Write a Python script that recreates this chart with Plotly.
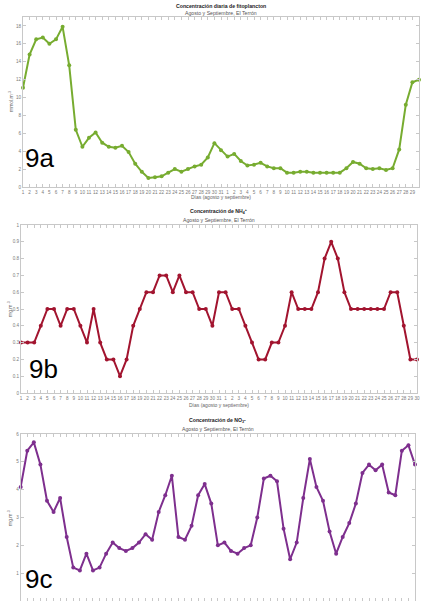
import plotly.graph_objects as go

W, H = 421, 601

day_labels = [str(d) for d in range(1, 32)] + [str(d) for d in range(1, 31)]
days = list(range(1, 62))

fito = [11.1, 14.8, 16.5, 16.7, 16.0, 16.5, 17.9, 13.6, 6.4, 4.5,
        5.5, 6.1, 4.95, 4.5, 4.4, 4.6, 3.9, 2.6, 1.7, 1.0,
        1.1, 1.2, 1.6, 2.0, 1.7, 2.0, 2.3, 2.5, 3.3, 4.9,
        4.1, 3.4, 3.7, 2.9, 2.4, 2.5, 2.7, 2.3, 2.1, 2.1,
        1.6, 1.6, 1.7, 1.7, 1.6, 1.6, 1.6, 1.6, 1.6, 2.1,
        2.8, 2.6, 2.1, 2.0, 2.1, 1.9, 2.1, 4.2, 9.2, 11.7, 12.0]

nh4 = [0.3, 0.3, 0.3, 0.4, 0.5, 0.5, 0.4, 0.5, 0.5, 0.4,
       0.3, 0.5, 0.3, 0.2, 0.2, 0.1, 0.2, 0.4, 0.5, 0.6,
       0.6, 0.7, 0.7, 0.6, 0.7, 0.6, 0.6, 0.5, 0.5, 0.4,
       0.6, 0.6, 0.5, 0.5, 0.4, 0.3, 0.2, 0.2, 0.3, 0.3,
       0.4, 0.6, 0.5, 0.5, 0.5, 0.6, 0.8, 0.9, 0.8, 0.6,
       0.5, 0.5, 0.5, 0.5, 0.5, 0.5, 0.6, 0.6, 0.4, 0.2, 0.2]

no3 = [4.1, 5.4, 5.7, 4.9, 3.6, 3.2, 3.7, 2.3, 1.2, 1.1,
       1.7, 1.1, 1.2, 1.7, 2.1, 1.9, 1.8, 1.9, 2.1, 2.4,
       2.2, 3.2, 3.8, 4.5, 2.3, 2.2, 2.7, 3.8, 4.2, 3.5,
       2.0, 2.1, 1.8, 1.7, 1.9, 2.0, 3.0, 4.4, 4.5, 4.3,
       2.6, 1.5, 2.1, 3.7, 5.1, 4.1, 3.6, 2.5, 1.7, 2.3,
       2.8, 3.5, 4.6, 4.9, 4.7, 4.9, 3.9, 3.8, 5.4, 5.6, 4.9]

colors = ["#77AC30", "#A2142F", "#7E2F8E"]
series = [fito, nh4, no3]

# pixel geometry of each panel: (left, right, top, bottom)
boxes = [(23, 419, 17, 187), (21, 417, 225, 393), (20.7, 415, 434, 601)]
yranges = [[0, 19], [0, 1], [0, 6]]
ytickvals = [list(range(0, 19, 2)), [i / 10 for i in range(0, 11)], list(range(0, 7))]
yticktext = [[str(v) for v in ytickvals[0]],
             ["0"] + ["0." + str(i) for i in range(1, 10)] + ["1"],
             [" "] + [str(v) for v in ytickvals[2][1:]]]
show_xlabels = [True, True, False]

FONT = "Liberation Sans"
GRID = "#c8c8c8"
TXT = "#7a7a7a"

fig = go.Figure()
layout = dict(width=W, height=H, margin=dict(l=0, r=0, t=0, b=0),
              paper_bgcolor="white", plot_bgcolor="white", showlegend=False,
              font=dict(family=FONT))

for k in range(3):
    l, r, t, b = boxes[k]
    xa = "xaxis" if k == 0 else f"xaxis{k+1}"
    ya = "yaxis" if k == 0 else f"yaxis{k+1}"
    fig.add_trace(go.Scatter(
        x=days, y=series[k], mode="lines+markers",
        line=dict(color=colors[k], width=2),
        marker=dict(color=colors[k], size=4),
        cliponaxis=False,
        xaxis="x" if k == 0 else f"x{k+1}",
        yaxis="y" if k == 0 else f"y{k+1}"))
    layout[xa] = dict(domain=[l / W, r / W], range=[1, 61],
                      anchor="y" if k == 0 else f"y{k+1}",
                      tickvals=days, ticktext=day_labels, tickangle=0,
                      showticklabels=show_xlabels[k],
                      ticks="inside", ticklen=3, tickcolor=GRID,
                      showline=True, linecolor=GRID, linewidth=1, mirror="allticks",
                      showgrid=False, zeroline=False, automargin=False,
                      tickfont=dict(size=4.6, color=TXT, family=FONT))
    layout[ya] = dict(domain=[1 - b / H, 1 - t / H], range=yranges[k],
                      anchor="x" if k == 0 else f"x{k+1}",
                      tickvals=ytickvals[k], ticktext=yticktext[k],
                      ticks="inside", ticklen=3, tickcolor=GRID,
                      showline=True, linecolor=GRID, linewidth=1, mirror="allticks",
                      showgrid=False, zeroline=False, automargin=False,
                      tickfont=dict(size=4.6, color=TXT, family=FONT))

fig.update_layout(**layout)

titles = ["Concentración diaria de fitoplancton",
          "Concentración de NH<sub>4</sub><sup>+</sup>",
          "Concentración de NO<sub>3</sub>-"]
subtitle = "Agosto y Septiembre, El Terrón"
ylabels = ["mmol.m<sup>-3</sup>", "mg.m<sup>-3</sup>", "mg.m<sup>-3</sup>"]
xlabel = "Días (agosto y septiembre)"
panel_labels = ["9a", "9b", "9c"]

title_y = [6, 211.5, 420.5]
sub_y = [13, 220, 429]
xlab_y = [197.5, 404.5, None]
ylab = [(11, 102), (10, 309), (10, 518)]
plab = [(39, 158), (43, 368.5), (38.5, 578.5)]


def A(x, y, text, size, color, angle=0):
    return dict(x=x / W, y=1 - y / H, xref="paper", yref="paper",
                xanchor="center", yanchor="middle", text=text, showarrow=False,
                textangle=angle, borderpad=0,
                font=dict(size=size, color=color, family=FONT))


ann = []
for k in range(3):
    l, r, t, b = boxes[k]
    cx = (l + r) / 2
    ann.append(A(cx, title_y[k], "<b>" + titles[k] + "</b>", 5.2, "#222222"))
    ann.append(A(cx, sub_y[k], subtitle, 5.2, "#555555"))
    if xlab_y[k] is not None:
        ann.append(A(cx, xlab_y[k], xlabel, 5.0, "#666666"))
    ann.append(A(ylab[k][0], ylab[k][1], ylabels[k], 5, "#666666", -90))
    ann.append(A(plab[k][0], plab[k][1], panel_labels[k], 26, "black"))

fig.update_layout(annotations=ann)
fig.write_html("out.html", config={"displayModeBar": False},
               post_script="document.body.style.margin='0';document.body.style.overflow='hidden';")
